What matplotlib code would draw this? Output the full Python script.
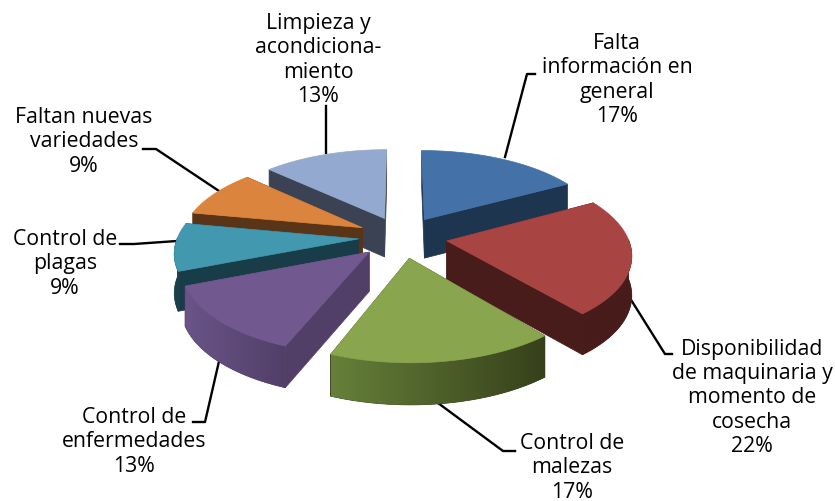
import numpy as np
import matplotlib
matplotlib.use("Agg")
import matplotlib.pyplot as plt
from matplotlib.patches import Polygon
from matplotlib.colors import LinearSegmentedColormap

labels = ["Falta\ninformación en\ngeneral\n17%",
          "Disponibilidad\nde maquinaria y\nmomento de\ncosecha\n22%",
          "Control de\nmalezas\n17%",
          "Control de\nenfermedades\n13%",
          "Control de\nplagas\n9%",
          "Faltan nuevas\nvariedades\n9%",
          "Limpieza y\nacondiciona-\nmiento\n13%"]
values = [17, 22, 17, 13, 9, 9, 13]
explode = [0.25, 0.25, 0.25, 0.25, 0.24, 0.25, 0.25]

top_colors = ["#4472a8", "#a84442", "#89a54e", "#71588f", "#4198af", "#db843d", "#93a9cf"]
side_colors = ["#1e3550", "#471c1a", "#3a461c", "#523f68", "#183c48", "#5a3416", "#3b4254"]
arc_left = ["#1e3550", "#471c1a", "#66803a", "#6a5488", "#1c4a58", "#5a3416", "#3b4254"]
arc_right = ["#1e3550", "#471c1a", "#36401a", "#523f68", "#183c48", "#5a3416", "#3b4254"]

label_pos = [(617, 80), (752, 398), (572, 468), (134, 442), (65, 264), (84, 142), (318, 60)]
leaders = [[(505, 158), (527, 75), (535, 75)],
           [(628, 296), (665, 355), (672, 355)],
           [(438, 404), (503, 452), (515, 452)],
           [(220, 358), (205, 423), (193, 423)],
           [(177, 242), (134, 245), (120, 245)],
           [(219, 192), (156, 150), (143, 150)],
           [(326, 154), (326, 107)]]

cx, cy = 402, 238
R = 181
tilt = 0.46
persp = 0.14
depth = 39


def project(x, y, z=0.0):
    s = 1 / (1 + persp * np.asarray(y))
    return cx + R * np.asarray(x) * s, cy - R * tilt * np.asarray(y) * s + depth * z * s ** 0.4


fig = plt.figure(figsize=(8.35, 5.02), dpi=100)
ax = fig.add_axes([0, 0, 1, 1])
ax.axis("off")

for pts in leaders:
    xs, ys = zip(*pts)
    ax.plot(xs, ys, color="black", lw=1.7, zorder=1, solid_joinstyle="round")

edges = 90 - 360 * np.cumsum([0] + values) / sum(values)
order = [6, 0, 5, 4, 3, 1, 2]

z = 2
for i in order:
    a0, a1 = np.radians(edges[i]), np.radians(edges[i + 1])
    mid = (a0 + a1) / 2
    ox, oy = explode[i] * np.cos(mid), explode[i] * np.sin(mid)
    th = np.linspace(a0, a1, 80)
    arc_x = ox + np.cos(th)
    arc_y = oy + np.sin(th)

    # cut faces
    for a in (a0, a1):
        ex, ey = ox + np.cos(a), oy + np.sin(a)
        p = [project(ox, oy), project(ex, ey), project(ex, ey, 1), project(ox, oy, 1)]
        ax.add_patch(Polygon(np.array(p, dtype=float), fc=side_colors[i], ec=side_colors[i], lw=0.5, zorder=z))

    # outer wall, gradient along x, clipped to the wall outline
    vis = np.sin(th) <= 0.02
    tx, ty = project(arc_x[vis], arc_y[vis])
    bx, by = project(arc_x[vis], arc_y[vis], 1)
    if len(tx) > 1:
        outline = np.column_stack([np.r_[tx, bx[::-1]], np.r_[ty, by[::-1]]])
        wall = Polygon(outline, fc=arc_right[i], ec=arc_right[i], lw=0.5, zorder=z)
        ax.add_patch(wall)
        cmap = LinearSegmentedColormap.from_list("w", [arc_left[i], arc_right[i]])
        im = ax.imshow(np.linspace(0, 1, 128)[None, :], cmap=cmap, aspect="auto", zorder=z,
                       extent=(outline[:, 0].min(), outline[:, 0].max(), outline[:, 1].max(), outline[:, 1].min()))
        im.set_clip_path(wall)

    # top
    ax0, ay0 = project(ox, oy)
    tx, ty = project(arc_x, arc_y)
    top = np.column_stack([np.r_[ax0, tx], np.r_[ay0, ty]])
    ax.add_patch(Polygon(top, fc=top_colors[i], ec=top_colors[i], lw=0.5, zorder=z))
    z += 1

ax.set_xlim(0, 835)
ax.set_ylim(502, 0)

for lab, (x, y) in zip(labels, label_pos):
    ax.text(x, y, lab, ha="center", va="center", fontsize=15.3, color="black",
            family="Open Sans", linespacing=1.2, zorder=20)

fig.savefig("out.png", dpi=100)
